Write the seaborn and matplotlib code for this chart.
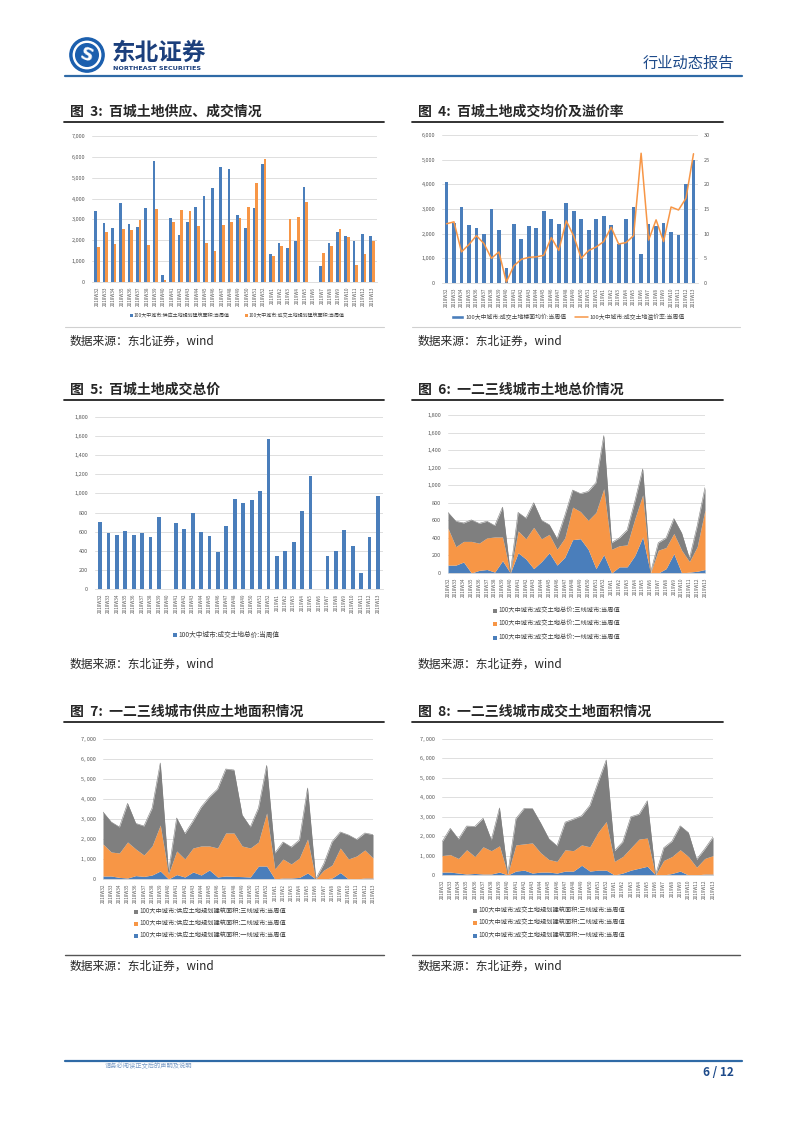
"""Recreates page 6 of a weekly land-market report: six panels of land supply and transaction data."""
import matplotlib

matplotlib.use("Agg")
import matplotlib.pyplot as plt
import numpy as np
import pandas as pd
import seaborn as sns
from matplotlib.lines import Line2D
from matplotlib.patches import Circle, Patch

# Week labels shared by every chart
weeks = [
    "2018W32", "2018W33", "2018W34", "2018W35", "2018W36", "2018W37", "2018W38",
    "2018W39", "2018W40", "2018W41", "2018W42", "2018W43", "2018W44", "2018W45",
    "2018W46", "2018W47", "2018W48", "2018W49", "2018W50", "2018W51", "2018W52",
    "2019W1", "2019W2", "2019W3", "2019W4", "2019W5", "2019W6", "2019W7",
    "2019W8", "2019W9", "2019W10", "2019W11", "2019W12", "2019W13",
]

# Figure 3: supply vs transaction floor area (10k m2)
supply_area = [3400, 2850, 2600, 3800, 2780, 2650, 3550, 5800, 350, 3080, 2270, 2900,
               3600, 4120, 4520, 5500, 5440, 3200, 2600, 3540, 5680, 1350, 1870, 1620,
               1980, 4560, 0, 780, 1870, 2380, 2220, 1980, 2300, 2220]
deal_area = [1700, 2400, 1820, 2520, 2500, 2950, 1780, 3520, 80, 2870, 3430, 3420,
             2680, 1870, 1500, 2720, 2880, 3050, 3580, 4770, 5920, 1250, 1720, 3000,
             3130, 3820, 0, 1400, 1740, 2530, 2180, 800, 1350, 1950]

# Figure 4: average floor price (yuan/m2) and premium rate (%)
avg_price = [4080, 2450, 3080, 2370, 2230, 2000, 3020, 2150, 620, 2400, 1800, 2300,
             2230, 2920, 2580, 2380, 3260, 2920, 2600, 2150, 2610, 2700, 2340, 1600,
             2600, 3080, 1180, 2400, 2300, 2420, 2050, 1960, 4020, 4980]
premium = [12.0, 12.4, 6.3, 7.8, 9.6, 8.0, 5.0, 6.3, 0.2, 3.5, 4.8, 5.2, 5.3, 5.6,
           9.2, 6.6, 12.6, 9.5, 5.0, 6.6, 7.3, 8.4, 11.3, 7.9, 8.2, 9.6, 26.3, 8.7,
           12.8, 8.4, 15.4, 14.8, 17.2, 26.2]

# Figure 5: total transaction value (100m yuan)
total_value = [700, 590, 570, 605, 565, 590, 540, 750, 5, 690, 625, 800, 600, 550,
               390, 655, 945, 905, 930, 1030, 1565, 345, 400, 490, 820, 1185, 5, 345,
               400, 620, 455, 165, 540, 975]

# Figure 6: total value by city tier
value_tier1 = [90, 90, 125, 0, 30, 40, 10, 140, 0, 230, 160, 50, 130, 230, 90, 180,
               380, 390, 270, 50, 210, 0, 70, 70, 200, 410, 0, 0, 50, 220, 0, 10, 20, 40]
value_tier2 = [420, 210, 235, 360, 310, 360, 400, 270, 0, 250, 230, 470, 260, 210, 180,
               220, 370, 310, 330, 640, 750, 270, 240, 250, 420, 480, 0, 260, 240, 230,
               260, 120, 280, 680]
value_tier3 = [180, 290, 210, 245, 225, 190, 130, 340, 0, 210, 235, 280, 210, 110, 120,
               255, 195, 205, 330, 340, 605, 75, 90, 170, 200, 295, 0, 85, 110, 170,
               195, 35, 240, 255]

# Figure 7: supply floor area by city tier
supply_tier1 = [150, 150, 80, 50, 170, 130, 200, 400, 0, 220, 100, 350, 200, 450, 100,
                150, 130, 120, 100, 650, 650, 0, 50, 50, 80, 300, 0, 0, 50, 320, 0, 0,
                50, 50]
supply_tier2 = [1600, 1200, 1220, 1800, 1330, 1070, 1450, 2300, 250, 1180, 900, 1200,
                1450, 1200, 1450, 2150, 2170, 1530, 1450, 1200, 2650, 500, 950, 700,
                970, 1700, 0, 450, 650, 1230, 1000, 1150, 1400, 1000]
supply_tier3 = [1600, 1500, 1300, 1930, 1280, 1450, 1900, 3100, 100, 1650, 1270, 1350,
                1950, 2450, 2950, 3200, 3150, 1550, 1050, 1700, 2380, 800, 850, 850,
                900, 2550, 0, 330, 1170, 800, 1200, 830, 850, 1170]

# Figure 8: transaction floor area by city tier
deal_tier1 = [150, 150, 100, 50, 80, 50, 50, 150, 0, 200, 250, 100, 150, 150, 100, 200,
              200, 500, 200, 250, 250, 0, 100, 250, 350, 450, 0, 0, 80, 200, 0, 0, 50, 50]
deal_tier2 = [850, 900, 750, 1250, 870, 1400, 1200, 1350, 50, 1350, 1350, 1550, 1000,
              650, 600, 1100, 1050, 1050, 1250, 1950, 2500, 700, 850, 1150, 1500, 1450,
              0, 750, 870, 1100, 950, 400, 800, 950]
deal_tier3 = [700, 1350, 1000, 1220, 1550, 1470, 550, 1950, 0, 1350, 1830, 1770, 1530,
              1070, 800, 1420, 1630, 1500, 2130, 2570, 3170, 550, 750, 1600, 1280, 1920,
              0, 650, 790, 1230, 1230, 400, 500, 950]

BLUE = "#4a7ebb"
ORANGE = "#f79646"
GRAY = "#7f7f7f"
NAVY = "#1d4a8a"
W, H = 802, 1133

sns.set_style("white")
plt.rcParams["font.family"] = ["Noto Sans CJK SC", "DejaVu Sans"]

fig = plt.figure(figsize=(W / 100, H / 100), dpi=100)


def px_axes(left, top, right, bottom):
    """Add an axes placed by page pixel coordinates."""
    return fig.add_axes([left / W, 1 - bottom / H, (right - left) / W, (bottom - top) / H])


def fx(x):
    return x / W


def fy(y):
    return 1 - y / H


def style_axis(ax, ymax, step, comma=","):
    """Excel-like look: light horizontal grid, tiny grey labels."""
    ax.set_ylim(0, ymax)
    ticks = np.arange(0, ymax + 1, step)
    ax.set_yticks(ticks)
    ax.set_yticklabels([f"{int(t):,}".replace(",", comma) for t in ticks])
    ax.yaxis.grid(True, color="#d9d9d9", lw=0.6)
    ax.set_axisbelow(True)
    for side in ["top", "right", "left"]:
        ax.spines[side].set_visible(False)
    ax.spines["bottom"].set_color("#d9d9d9")
    ax.spines["bottom"].set_linewidth(0.6)
    ax.tick_params(axis="y", labelsize=4, colors="#595959", length=0, pad=5)
    ax.tick_params(axis="x", labelsize=3.3, colors="#595959", length=1.5,
                   labelrotation=90, width=0.4, pad=2)
    ax.set_xlabel("")
    ax.set_ylabel("")


def title(x, y, text, line_end):
    fig.text(fx(x), fy(y), text, fontsize=10, fontweight="bold", va="center", ha="left")
    fig.add_artist(Line2D([fx(x - 6), fx(line_end)], [fy(y + 10), fy(y + 10)],
                          color="#222222", lw=1.3))


def source(x, y):
    fig.text(fx(x), fy(y), "数据来源：东北证券，wind", fontsize=8.5, va="center", ha="left")


def legend(handles, labels, x, y, size, ncol=1):
    fig.legend(handles, labels, loc="center", bbox_to_anchor=(fx(x), fy(y)),
               ncol=ncol, frameon=False, fontsize=size, handlelength=0.6,
               handleheight=0.6, handletextpad=0.2, columnspacing=3.0,
               labelspacing=0.45, labelcolor="#404040")


def square(color):
    return Patch(facecolor=color, edgecolor="none")


# ---------------- Header ----------------
ax_logo = px_axes(68, 37, 106, 73)
ax_logo.set_xlim(-1.05, 1.05)
ax_logo.set_ylim(-1.05, 1.05)
ax_logo.set_aspect("equal")
ax_logo.axis("off")
ax_logo.add_patch(Circle((0, 0), 1.0, color="#1b5fae"))
ax_logo.add_patch(Circle((0, 0), 0.8, color="white"))
ax_logo.add_patch(Circle((0, 0), 0.66, color="#1b5fae"))
ax_logo.text(0, -0.05, "S", color="white", fontsize=13, fontweight="bold",
             ha="center", va="center", family="DejaVu Sans", rotation=-20)
fig.text(fx(112), fy(53), "东北证券", fontsize=17, fontweight="bold", color="#1b3f7c",
         va="center", ha="left")
fig.text(fx(113), fy(69), "NORTHEAST SECURITIES", fontsize=4.6, fontweight="bold",
         color="#1b3f7c", va="center", ha="left", family="DejaVu Sans")
fig.text(fx(734), fy(63), "行业动态报告", fontsize=11, color=NAVY, va="center", ha="right")
fig.add_artist(Line2D([fx(65), fx(742)], [fy(76), fy(76)], color="#2f6aa6", lw=1.6))

# ---------------- Figure 3 ----------------
title(70, 112, "图  3:  百城土地供应、成交情况", 384)
ax3 = px_axes(92, 136, 377, 282)
labels3 = ["100大中城市:供应土地规划建筑面积:当周值", "100大中城市:成交土地规划建筑面积:当周值"]
df3 = pd.DataFrame({
    "week": weeks * 2,
    "value": supply_area + deal_area,
    "series": [labels3[0]] * len(weeks) + [labels3[1]] * len(weeks),
})
sns.barplot(data=df3, x="week", y="value", hue="series", palette=[BLUE, ORANGE],
            width=0.62, ax=ax3, legend=False, saturation=1, linewidth=0,
            edgecolor="none", errorbar=None)
ax3.set_xlim(-0.6, len(weeks) - 0.4)
style_axis(ax3, 7000, 1000)
legend([square(BLUE), square(ORANGE)], labels3, 237, 316, 3.6, ncol=2)
fig.add_artist(Line2D([fx(65), fx(384)], [fy(327), fy(327)], color="#d0d0d0", lw=0.8))
source(70, 341)

# ---------------- Figure 4 ----------------
title(418, 112, "图  4:  百城土地成交均价及溢价率", 723)
ax4 = px_axes(442, 135, 698, 283)
sns.barplot(x=weeks, y=avg_price, color=BLUE, width=0.5, ax=ax4, saturation=1,
            linewidth=0, edgecolor="none", errorbar=None)
ax4.set_xlim(-0.6, len(weeks) - 0.4)
style_axis(ax4, 6000, 1000)
ax4b = ax4.twinx()
sns.lineplot(x=np.arange(len(weeks)), y=premium, color=ORANGE, lw=1.1, ax=ax4b)
ax4b.set_xlim(-0.6, len(weeks) - 0.4)
ax4b.set_ylim(0, 30)
ax4b.set_yticks(np.arange(0, 31, 5))
for side in ["top", "right", "left", "bottom"]:
    ax4b.spines[side].set_visible(False)
ax4b.tick_params(axis="y", labelsize=4, colors="#595959", length=0, pad=4)
labels4 = ["100大中城市:成交土地楼面均价:当周值", "100大中城市:成交土地溢价率:当周值"]
fig.legend([Patch(facecolor=BLUE), Line2D([0], [0], color=ORANGE, lw=1.1)], labels4,
           loc="center", bbox_to_anchor=(fx(568), fy(317)), ncol=2, frameon=False,
           fontsize=4.2, handlelength=2.2, handletextpad=0.3, columnspacing=1.5,
           labelcolor="#404040")
fig.add_artist(Line2D([fx(412), fx(740)], [fy(327), fy(327)], color="#d0d0d0", lw=0.8))
source(418, 341)

# ---------------- Figure 5 ----------------
title(70, 390, "图  5:  百城土地成交总价", 384)
ax5 = px_axes(95, 417, 383, 589)
sns.barplot(x=weeks, y=total_value, color=BLUE, width=0.45, ax=ax5, saturation=1,
            linewidth=0, edgecolor="none", errorbar=None)
ax5.set_xlim(-0.6, len(weeks) - 0.4)
style_axis(ax5, 1800, 200)
legend([square(BLUE)], ["100大中城市:成交土地总价:当周值"], 226, 635, 4.8)
source(70, 664)

# ---------------- Stacked area helper ----------------
def area_panel(box, tiers, ymax, step, comma, labels, leg_x, leg_ys, leg_size):
    ax = px_axes(*box)
    x = np.arange(len(weeks))
    ax.stackplot(x, *tiers, colors=[BLUE, ORANGE, GRAY], lw=0)
    # Thin seaborn line trace so the top edge reads cleanly
    sns.lineplot(x=x, y=np.sum(tiers, axis=0), color=GRAY, lw=0.4, ax=ax)
    ax.set_xlim(0, len(weeks) - 1)
    ax.set_xticks(x)
    ax.set_xticklabels(weeks)
    style_axis(ax, ymax, step, comma)
    for lab, color, ly in zip(labels, [GRAY, ORANGE, BLUE], leg_ys):
        fig.legend([square(color)], [lab], loc="center left",
                   bbox_to_anchor=(fx(leg_x), fy(ly)), frameon=False,
                   fontsize=leg_size, handlelength=0.6, handleheight=0.6,
                   handletextpad=0.2, labelcolor="#404040", borderpad=0)
    return ax


# ---------------- Figure 6 ----------------
title(418, 390, "图  6:  一二三线城市土地总价情况", 723)
labels6 = ["100大中城市:成交土地总价:三线城市:当周值",
           "100大中城市:成交土地总价:二线城市:当周值",
           "100大中城市:成交土地总价:一线城市:当周值"]
area_panel((448, 415, 705, 573), [value_tier1, value_tier2, value_tier3], 1800, 200, ",",
           labels6, 490, [611, 624, 638], 4.5)
source(418, 664)

# ---------------- Figure 7 ----------------
title(70, 712, "图  7:  一二三线城市供应土地面积情况", 384)
labels7 = ["100大中城市:供应土地规划建筑面积:三线城市:当周值",
           "100大中城市:供应土地规划建筑面积:二线城市:当周值",
           "100大中城市:供应土地规划建筑面积:一线城市:当周值"]
area_panel((103, 739, 373, 879), [supply_tier1, supply_tier2, supply_tier3], 7000, 1000,
           ", ", labels7, 131, [912, 924, 936], 4.5)
fig.add_artist(Line2D([fx(65), fx(384)], [fy(955), fy(955)], color="#555555", lw=1.0))
source(70, 966)

# ---------------- Figure 8 ----------------
title(418, 712, "图  8:  一二三线城市成交土地面积情况", 723)
labels8 = ["100大中城市:成交土地规划建筑面积:三线城市:当周值",
           "100大中城市:成交土地规划建筑面积:二线城市:当周值",
           "100大中城市:成交土地规划建筑面积:一线城市:当周值"]
area_panel((442, 739, 713, 875), [deal_tier1, deal_tier2, deal_tier3], 7000, 1000,
           ", ", labels8, 470, [911, 923, 936], 4.5)
fig.add_artist(Line2D([fx(412), fx(740)], [fy(955), fy(955)], color="#555555", lw=1.0))
source(418, 966)

# ---------------- Footer ----------------
fig.add_artist(Line2D([fx(65), fx(742)], [fy(1061), fy(1061)], color="#2f6aa6", lw=1.6))
fig.text(fx(105), fy(1066), "请务必阅读正文后的声明及说明", fontsize=4.5, color="#7a9cc6",
         va="center", ha="left")
fig.text(fx(734), fy(1072), "6 / 12", fontsize=8.5, fontweight="bold", color=NAVY,
         va="center", ha="right")

fig.savefig("out.png", dpi=100)
plt.close(fig)
